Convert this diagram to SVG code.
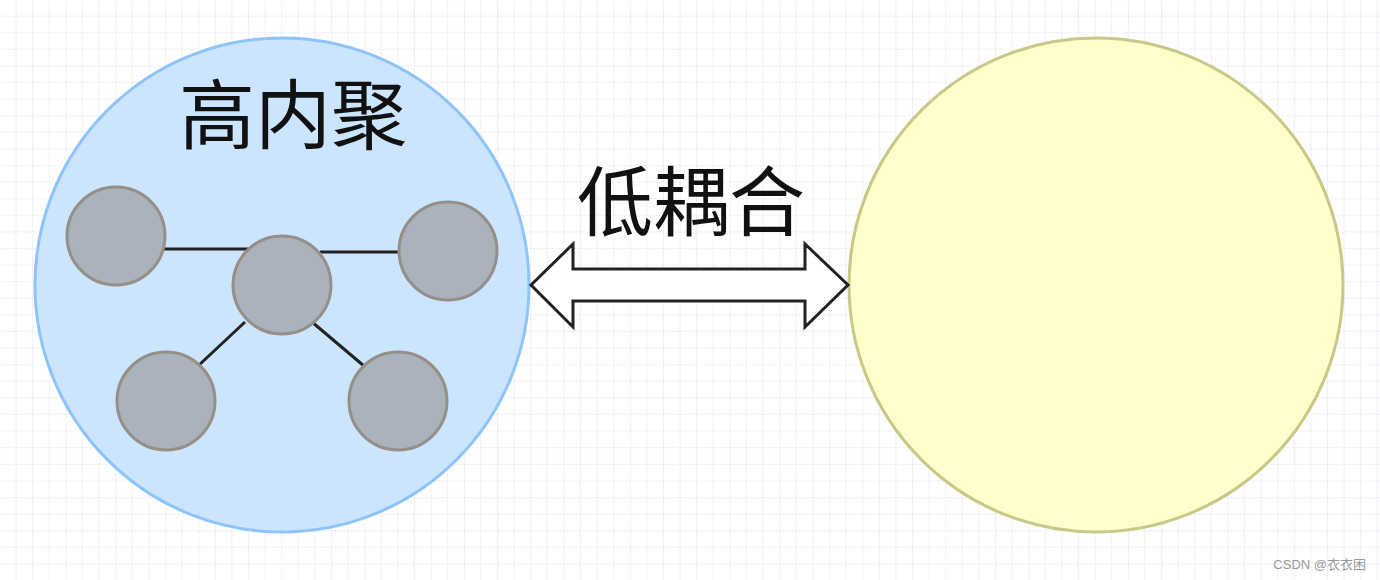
<svg xmlns="http://www.w3.org/2000/svg" width="1380" height="580" viewBox="0 0 1380 580">
<defs>
<pattern id="g" width="16.6" height="16.6" patternUnits="userSpaceOnUse"><path d="M16.6 0V16.6H0" fill="none" stroke="#e4e4f6" stroke-width="1.2"/></pattern>
<style>
.n{fill:#aab2bc;stroke:#958f88;stroke-width:3}
.e{stroke:#222;stroke-width:3}
.t{font-family:"Noto Sans CJK SC",sans-serif;font-size:76px;fill:#111;text-anchor:middle}
</style>
</defs>
<rect width="1380" height="580" fill="#fff"/>
<rect width="1380" height="580" fill="url(#g)"/>
<g id="cohesion"><circle cx="282" cy="285" r="247" fill="#cce5ff" stroke="#8fc4fa" stroke-width="3"/>
<text class="t" x="293" y="143">高内聚</text></g>
<g id="other"><circle cx="1096" cy="285" r="247" fill="#ffffcc" stroke="#c8c887" stroke-width="3"/></g>
<g id="connectors">
<line class="e" x1="160" y1="249" x2="250" y2="249"/>
<line class="e" x1="320" y1="252" x2="405" y2="252"/>
<line class="e" x1="245" y1="322" x2="198" y2="366"/>
<line class="e" x1="312" y1="322" x2="364" y2="366"/>
<path d="M531 285L573 244V269H805V244L848 285L805 327V301H573V327Z" fill="#fff" stroke="#222" stroke-width="3" stroke-linejoin="miter"/>
</g>
<g id="n1"><circle class="n" cx="116" cy="236" r="49"/></g>
<g id="n2"><circle class="n" cx="282" cy="285" r="49"/></g>
<g id="n3"><circle class="n" cx="448" cy="251" r="49"/></g>
<g id="n4"><circle class="n" cx="166" cy="401" r="49"/></g>
<g id="n5"><circle class="n" cx="398" cy="401" r="49"/></g>
<g id="label"><text class="t" x="691" y="230">低耦合</text></g>
<text x="1366" y="569" font-family="'Liberation Sans','Noto Sans CJK SC',sans-serif" font-size="13" fill="#999" text-anchor="end">CSDN @衣衣困</text>
</svg>
